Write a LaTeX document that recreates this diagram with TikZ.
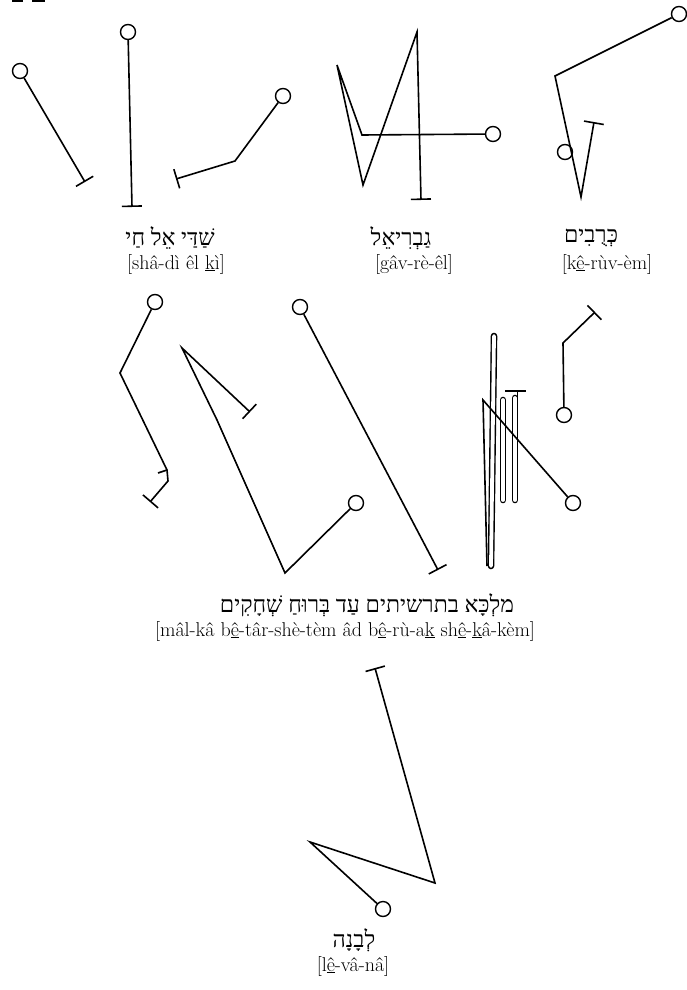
\documentclass[tikz,border=0pt]{standalone}
\usepackage{fontspec}
\TeXXeTstate=1
\newfontfamily\hebfont[Script=Hebrew]{Liberation Serif}
\usetikzlibrary{arrows.meta}
\begin{document}
\begin{tikzpicture}[x=1pt,y=-1pt,
  stroke/.style={line width=1.6pt, line join=miter},
  endbar/.style={-{Bar[width=20pt,line width=1.6pt]}},
  ring/.style={circle, draw, line width=1.4pt, minimum size=15pt, inner sep=0pt},
  heb/.style={font=\hebfont\fontsize{23}{26}\selectfont, inner sep=0pt},
  lat/.style={font=\fontsize{20}{23}\selectfont, inner sep=0pt},
  capsule/.style={double, double distance=3.8pt, line width=1.4pt, line cap=round},
]
\fill[white] (0,0) rectangle (686,990);
\useasboundingbox (0,0) rectangle (686,990);
% cut-off marks at top edge
\fill (12,0) rectangle (23,2.5);
\fill (32,0) rectangle (45,2.5);

% ---- Shaddai El Chai
\node[ring] (s1) at (20,71) {};
\coordinate (s1e) at (85,182);
\draw[stroke,endbar] (s1) -- (s1e);
\node[ring] (s2) at (128,32) {};
\coordinate (s2e) at (132,207);
\draw[stroke,endbar] (s2) -- (s2e);
\node[ring] (s3) at (283,96) {};
\coordinate (s3a) at (235,161);
\coordinate (s3e) at (176,179);
\draw[stroke,endbar] (s3) -- (s3a) -- (s3e);
\node[heb] (t1h) at (170,238) {\beginR שַׁדַּי אֵל חַי\endR};
\node[lat] (t1l) at (176,264) {[shâ-dì êl \underline{k}ì]};

% ---- Gavriel
\node[ring] (g) at (493,134) {};
\coordinate (g1) at (362,135);
\coordinate (g2) at (337,65);
\coordinate (g3) at (363,185);
\coordinate (g4) at (417,32);
\coordinate (g5) at (421,200);
\draw[stroke,endbar] (g) -- (g1) -- (g2) -- (g3) -- (g4) -- (g5);
\node[heb] (t2h) at (401,238) {\beginR גַבְרִיאֵל\endR};
\node[lat] (t2l) at (414,264) {[gâv-rè-êl]};

% ---- Kruvim
\node[ring] (k1) at (679,14) {};
\node[ring] (k2) at (565,152) {};
\coordinate (k1a) at (555,76);
\coordinate (k1b) at (581,197);
\coordinate (k1e) at (594,122);
\draw[stroke,endbar] (k1) -- (k1a) -- (k1b) -- (k1e);
\node[heb] (t3h) at (591,238) {\beginR כְּרֻבִים\endR};
\node[lat] (t3l) at (607,264) {[k\underline{ê}-rùv-èm]};

% ---- Malka be-Tarshishim ...
\node[ring] (ma) at (155,302) {};
\coordinate (ma1) at (120,373);
\coordinate (ma2) at (167,470);
\coordinate (ma3) at (168,481);
\coordinate (mae) at (150,502);
\coordinate (masp) at (158,473);
\draw[stroke,endbar] (ma) -- (ma1) -- (ma2) -- (ma3) -- (mae);
\draw[stroke] (masp) -- (ma2);

\node[ring] (mb) at (356,503) {};
\coordinate (mb1) at (285,573);
\coordinate (mb2) at (217,420);
\coordinate (mb3) at (182,348);
\coordinate (mbe) at (250,412);
\draw[stroke,endbar] (mb) -- (mb1) -- (mb2) -- (mb3) -- (mbe);

\node[ring] (mc) at (300,307) {};
\coordinate (mce) at (438,570);
\draw[stroke,endbar] (mc) -- (mce);

% hairpins
\coordinate (cap1t) at (494,336);
\coordinate (cap1b) at (491,566);
\coordinate (cap2t) at (503,400);
\coordinate (cap2b) at (503,500);
\coordinate (cap3t) at (515,398);
\coordinate (cap3b) at (515,500);
\draw[capsule] (cap1t) -- (cap1b);
\draw[capsule] (cap2t) -- (cap2b);
\draw[capsule] (cap3t) -- (cap3b);
\coordinate (tb1) at (505,391);
\coordinate (tb2) at (526,391);
\coordinate (tbs) at (517.5,391);
\coordinate (tbs2) at (517.5,400);
\draw[stroke] (tb1) -- (tb2);
\draw[stroke] (tbs) -- (tbs2);

\node[ring] (md) at (573,503) {};
\coordinate (md1) at (483,400);
\coordinate (md2) at (487,566);
\draw[stroke] (md) -- (md1) -- (md2);

\node[ring] (me) at (564,415) {};
\coordinate (me1) at (563,343);
\coordinate (mee) at (595,312);
\draw[stroke,endbar] (me) -- (me1) -- (mee);

\node[heb] (t4h) at (367,605) {\beginR מלְכָּא בתרשיתים עַד בְּרוּחַ שְׁחָקִים\endR};
\node[lat] (t4l) at (345,631) {[mâl-kâ b\underline{ê}-târ-shè-tèm âd b\underline{ê}-rù-a\underline{k} sh\underline{ê}-\underline{k}â-kèm]};

% ---- Levanah
\node[ring] (l) at (383,909) {};
\coordinate (l1) at (310,842);
\coordinate (l2) at (435,883);
\coordinate (le) at (375,668);
\draw[stroke,endbar] (l) -- (l1) -- (l2) -- (le);
\node[heb] (t5h) at (354,940) {\beginR לְבָנָה\endR};
\node[lat] (t5l) at (353,966) {[l\underline{ê}-vâ-nâ]};
\end{tikzpicture}
\end{document}
